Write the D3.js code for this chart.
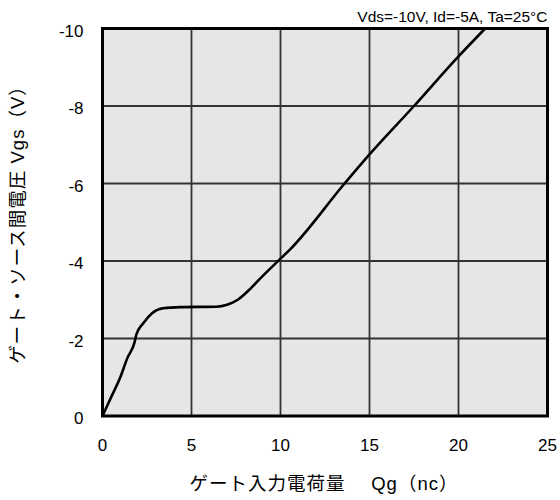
<!DOCTYPE html>
<html>
<head>
<meta charset="utf-8">
<script src="https://cdn.jsdelivr.net/npm/d3@7"></script>
<style>
  body { margin: 0; background: #fff; }
  svg { display: block; }
  .tick-label { font-family: "Liberation Sans", Arial, sans-serif; font-size: 17px; fill: #000; }
  .title { font-family: "Liberation Sans", "Noto Sans CJK JP", sans-serif; font-size: 18.5px; letter-spacing: 1px; fill: #000; }
  .note { font-family: "Liberation Sans", Arial, sans-serif; font-size: 15.5px; fill: #000; }
</style>
</head>
<body>
<script>
// gate charge curve
const qg = [0, 0.5, 1.0, 1.4, 1.8, 1.9, 2.3, 2.8, 3.4, 4.4, 6.4, 7.0, 7.6, 8.3, 8.8, 10.0, 10.5, 13.6, 15, 17.5, 20, 21.5];
const vgs = [0, -0.5, -1.0, -1.5, -1.9, -2.1, -2.4, -2.66, -2.78, -2.81, -2.82, -2.87, -3.0, -3.28, -3.52, -4.06, -4.28, -6.0, -6.75, -8.0, -9.28, -10];
const xTicks = [0, 5, 10, 15, 20, 25];
const yTicks = [0, -2, -4, -6, -8, -10];
const xTitle = 'ゲート入力電荷量　 Qg（nc）';
const yTitle = 'ゲート・ソース間電圧 Vgs（V）';
const note = 'Vds=-10V, Id=-5A, Ta=25°C';

const width = 560;
const height = 500;
const plot = { left: 102.5, right: 547.5, top: 28.5, bottom: 416 };

const x = d3.scaleLinear().domain([0, 25]).range([plot.left, plot.right]);
const y = d3.scaleLinear().domain([0, -10]).range([plot.bottom, plot.top]);

const svg = d3.select('body').append('svg')
  .attr('width', width)
  .attr('height', height);

svg.append('rect')
  .attr('x', plot.left)
  .attr('y', plot.top)
  .attr('width', plot.right - plot.left)
  .attr('height', plot.bottom - plot.top)
  .attr('fill', '#e6e6e6');

const grid = svg.append('g').attr('stroke', '#333').attr('stroke-width', 1.8);
grid.selectAll('.vgrid')
  .data(xTicks.slice(1, -1))
  .enter().append('line')
  .attr('x1', d => x(d)).attr('x2', d => x(d))
  .attr('y1', plot.top).attr('y2', plot.bottom);
grid.selectAll('.hgrid')
  .data(yTicks.slice(1, -1))
  .enter().append('line')
  .attr('x1', plot.left).attr('x2', plot.right)
  .attr('y1', d => y(d)).attr('y2', d => y(d));

const line = d3.line()
  .x(d => x(d[0]))
  .y(d => y(d[1]))
  .curve(d3.curveMonotoneX);

svg.append('path')
  .datum(d3.zip(qg, vgs))
  .attr('d', line)
  .attr('fill', 'none')
  .attr('stroke', '#000')
  .attr('stroke-width', 2.6)
  .attr('stroke-linejoin', 'round');

svg.append('rect')
  .attr('x', plot.left)
  .attr('y', plot.top)
  .attr('width', plot.right - plot.left)
  .attr('height', plot.bottom - plot.top)
  .attr('fill', 'none')
  .attr('stroke', '#000')
  .attr('stroke-width', 3);

svg.selectAll('.xlab')
  .data(xTicks)
  .enter().append('text')
  .attr('class', 'tick-label')
  .attr('x', d => x(d))
  .attr('y', plot.bottom + 35)
  .attr('text-anchor', 'middle')
  .text(d => String(d));

svg.selectAll('.ylab')
  .data(yTicks)
  .enter().append('text')
  .attr('class', 'tick-label')
  .attr('x', plot.left - 19)
  .attr('y', d => y(d) + 8)
  .attr('text-anchor', 'end')
  .text(d => String(d));

svg.append('text')
  .attr('class', 'title')
  .attr('x', 324)
  .attr('y', 490)
  .attr('text-anchor', 'middle')
  .text(xTitle);

svg.append('text')
  .attr('class', 'title')
  .attr('transform', 'translate(24,220) rotate(-90)')
  .attr('text-anchor', 'middle')
  .text(yTitle);

svg.append('text')
  .attr('class', 'note')
  .attr('x', plot.right)
  .attr('y', 22)
  .attr('text-anchor', 'end')
  .text(note);
</script>
</body>
</html>
